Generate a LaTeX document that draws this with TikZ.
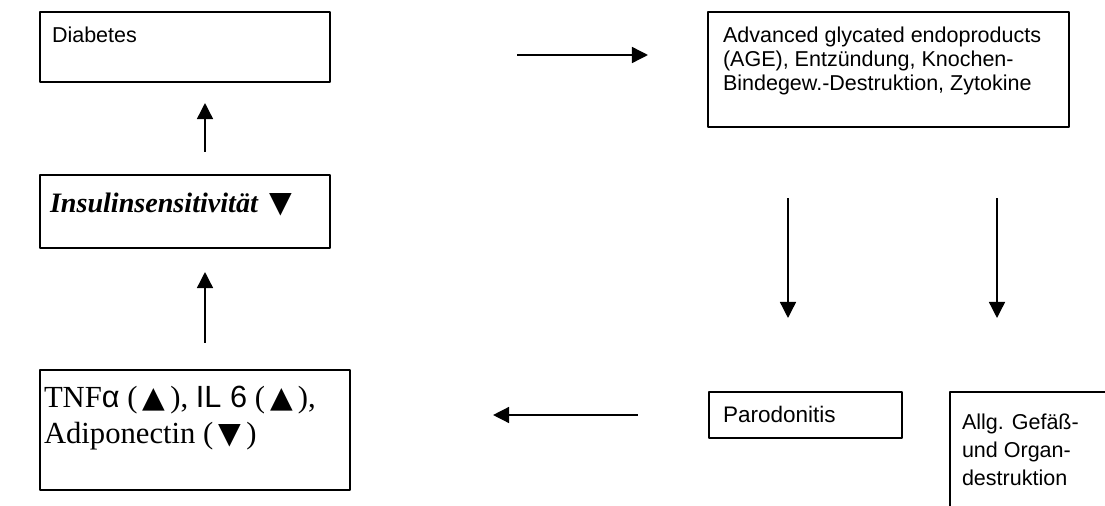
\documentclass[tikz,border=0pt]{standalone}
\usepackage{fontspec}
\setmainfont{Liberation Sans}
\newfontfamily\serifrm{Liberation Serif}
\newfontfamily\symfont{DejaVu Sans}
\usetikzlibrary{arrows.meta,positioning}
\newlength{\unitpx}\setlength{\unitpx}{0.025cm}
\newcommand{\boxtext}[3]{\parbox[t][#2\unitpx][t]{#1\unitpx}{\fontsize{15.3}{17}\selectfont\raggedright #3}}
\newcommand{\tri}[1]{{\symfont\mdseries\upshape\fontsize{21}{24}\selectfont #1}}
\tikzset{
	box/.style={draw, line width=1pt, anchor=north west, outer sep=0pt},
	arr/.style={-{Triangle[length=0.4cm,width=0.4cm]}, line width=1pt},
}
\begin{document}
\begin{tikzpicture}[x=0.025cm, y=-0.025cm, line join=round]
		\useasboundingbox (0,0) rectangle (1105,506);
		\clip (0,0) rectangle (1105,506);
		% left column
		\node[box, inner xsep=0.3cm, inner ysep=0.375cm] (diab) at (40,12) {\boxtext{266}{40}{Diabetes}};
		\node[box, inner xsep=0.25cm, inner ysep=0.45cm] (insul) at (40,175) {\boxtext{270}{37}{\serifrm\fontsize{20}{24}\selectfont\bfseries\itshape Insulinsensitivität\, \tri{▼}}};
		\node[box, inner xsep=0.1cm, inner ysep=0.4cm] (tnf) at (40,370) {\boxtext{302}{88}{\serifrm\fontsize{21.8}{26}\selectfont TNF{\normalfont α} (\,\tri{▲}\,), {\normalfont IL 6} (\,\tri{▲}\,),\\ Adiponectin (\,\tri{▼}\,)}};
		% right column
		\node[box, inner xsep=0.375cm, inner ysep=0.375cm] (age) at (708,12) {\boxtext{331}{85}{Advanced glycated endoproducts\\ (AGE), Entzündung, Knochen-\\ Bindegew.-Destruktion, Zytokine}};
		\node[box, inner xsep=0.35cm, inner ysep=0.35cm] (paro) at (709,392) {\boxtext{165}{18}{\fontsize{16}{18}\selectfont Parodonitis}};
		\node[box, inner xsep=0.3cm, inner ysep=0.55cm] (allg) at (950,392) {\boxtext{176}{124}{\fontsize{15.3}{19.9}\selectfont Allg. Gefäß-\\ und Organ-\\ destruktion}};
		% arrows
		\coordinate (c1) at (205,0); \coordinate (d1) at (788,0); \coordinate (d2) at (997,0);
		\coordinate (r1) at (0,55); \coordinate (r2) at (0,415);
		\draw[arr, shorten <=0.575cm, shorten >=0.525cm] (insul.north -| c1) -- (diab.south -| c1);
		\draw[arr, shorten <=0.675cm, shorten >=0.6cm] (tnf.north -| c1) -- (insul.south -| c1);
		\draw[arr, shorten <=4.675cm, shorten >=1.5cm] (diab.east |- r1) -- (age.west |- r1);
		\draw[arr, shorten <=1.775cm, shorten >=1.85cm] (age.south -| d1) -- (paro.north -| d1);
		\draw[arr, shorten <=1.775cm, shorten >=1.85cm] (age.south -| d2) -- (allg.north -| d2);
		\draw[arr, shorten <=1.775cm, shorten >=3.575cm] (paro.west |- r2) -- (tnf.east |- r2);
\end{tikzpicture}
\end{document}
